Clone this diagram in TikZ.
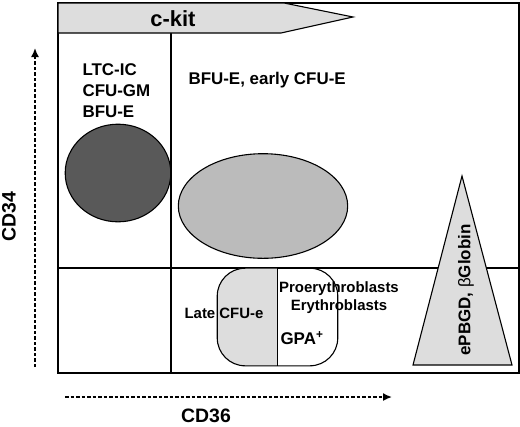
\documentclass[tikz,border=0pt]{standalone}
\usepackage{fontspec}
\setmainfont{Liberation Sans}
\usepackage{tikz}
\usetikzlibrary{shapes.geometric,arrows.meta}
\definecolor{paleg}{HTML}{DDDDDD}
\definecolor{midg}{HTML}{BBBBBB}
\definecolor{darkg}{HTML}{595959}
\begin{document}
\begin{tikzpicture}
  [x=1bp,y=-1bp,line width=1.1bp,
   lbl/.style={inner sep=0pt,font=\bfseries\fontsize{17}{21}\selectfont},
   small/.style={inner sep=0pt,font=\bfseries\fontsize{15}{18}\selectfont},
   axis/.style={line width=1.6bp,dash pattern=on 3.5bp off 2bp,-{Latex[length=9bp,width=8bp]}}]
  \useasboundingbox (0,0) rectangle (520,426);

  % frame and quadrants
  \draw (58,3) rectangle (519,373);
  \draw (171,33) -- (171,373);
  \draw (58,268) -- (519,268);

  % c-kit band
  \draw [fill=paleg] (58,3) -- (284,3) -- (353,17) -- (281,33) -- (58,33) -- cycle;
  \node [inner sep=0pt,font=\bfseries\fontsize{22}{26}\selectfont] (ckit) at (173,19) {c-kit};

  % populations
  \node [ellipse,draw,fill=darkg,minimum width=106,minimum height=98] (stem) at (118,173) {};
  \node [ellipse,draw,fill=midg,minimum width=170,minimum height=105] (early) at (263,206) {};
  \begin{scope}
    \clip [rounded corners=28bp] (217,268) rectangle (338,366);
    \fill [paleg] (217,268) rectangle (277.5,366);
  \end{scope}
  \node [draw,rounded corners=28bp,minimum width=121,minimum height=98] (late) at (277.5,317) {};
  \draw (late.north) -- (late.south);
  \draw [fill=paleg] (462,176) -- (512,365) -- (413,365) -- cycle;

  % labels
  \node [lbl,anchor=west,align=left] (stemtxt) at (82,91) {LTC-IC\\CFU-GM\\BFU-E};
  \node [lbl,anchor=west] (earlytxt) at (188,80) {BFU-E, early CFU-E};
  \node [small] (latetxt) at (224,313) {Late CFU-e};
  \node [small,align=center] (erytxt) at (339,298) {Proerythroblasts\\Erythroblasts};
  \node [lbl] (gpa) at (302,338) {GPA\textsuperscript{+}};
  \node [lbl,rotate=90] (globin) at (466,290) {ePBGD, {\mdseries β}Globin};

  % axes
  \coordinate (ylo) at (35,367);
  \coordinate (yhi) at (35,48);
  \coordinate (xlo) at (65,397);
  \coordinate (xhi) at (392,397);
  \draw [axis] (ylo) -- (yhi);
  \draw [axis] (xlo) -- (xhi);
  \node [inner sep=0pt,rotate=90,font=\bfseries\fontsize{19.5}{23}\selectfont] (cd34) at (9,217) {CD34};
  \node [inner sep=0pt,font=\bfseries\fontsize{19.5}{23}\selectfont] (cd36) at (206,416) {CD36};

\end{tikzpicture}
\end{document}
